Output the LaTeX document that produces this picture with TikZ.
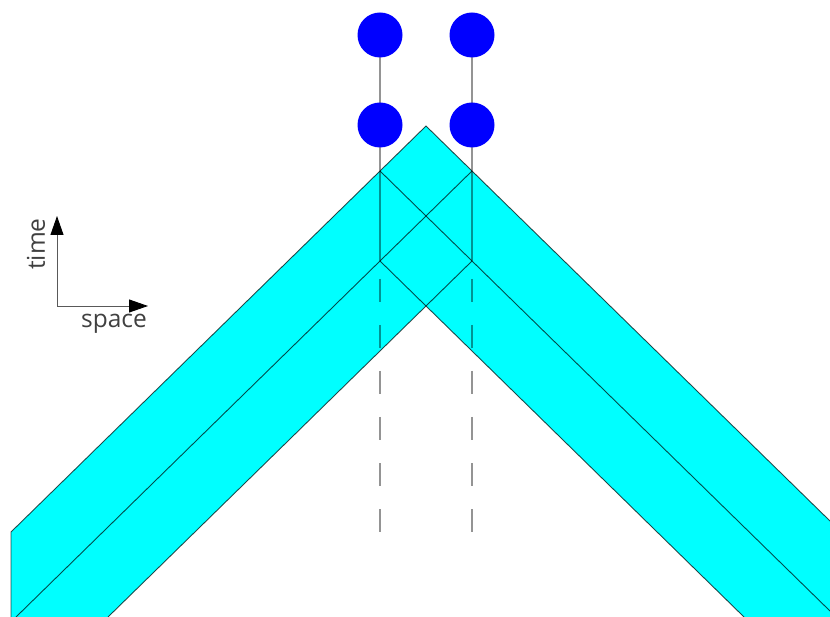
\documentclass[tikz,border=0pt]{standalone}
\usepackage{fontspec}
\setmainfont{Open Sans}
\usetikzlibrary{arrows.meta}
\definecolor{bandcyan}{RGB}{0,255,255}
\definecolor{dotblue}{RGB}{0,0,255}
\pgfdeclarelayer{bandlayer}
\pgfdeclarelayer{linelayer}
\pgfsetlayers{bandlayer,linelayer,main}
\begin{document}
\begin{tikzpicture}[x=1pt,y=-1pt,
  edge/.style={draw=black,opacity=0.7,line width=0.9pt},
  worldline/.style={draw=black,opacity=0.42,line width=1.4pt},
  dashline/.style={worldline,dash pattern=on 23pt off 23pt,dash phase=28pt},
  dot/.style={circle,fill=dotblue,inner sep=0pt,minimum size=45pt},
  axis/.style={draw=black!65,line width=0.9pt,-{Triangle[length=19pt,width=13pt,black]}},
  lbl/.style={text=black!75,font=\fontsize{24.5}{28}\selectfont,inner sep=0pt}]
\useasboundingbox (0,0) rectangle (830,617);
% key points
\coordinate (A) at (426,126);
\coordinate (L1) at (380,171);
\coordinate (R1) at (472,171);
\coordinate (C) at (426,216);
\coordinate (L2) at (380,261);
\coordinate (R2) at (472,261);
\coordinate (B) at (426,306);
\coordinate (LT) at (11,532);
\coordinate (LB) at (11,617);
\coordinate (LM) at (16,617);
\coordinate (LL) at (108,617);
\coordinate (RT) at (830,521);
\coordinate (RB) at (830,617);
\coordinate (RM) at (830,611);
\coordinate (RL) at (744,617);
% dots
\node[dot] (d1) at (380,35) {};
\node[dot] (d2) at (472,35) {};
\node[dot] (d3) at (380,125) {};
\node[dot] (d4) at (472,125) {};
\coordinate (e1) at (380,532);
\coordinate (e2) at (472,532);
% band fill
\begin{pgfonlayer}{bandlayer}
\fill[bandcyan] (LB) -- (LT) -- (A) -- (RT) -- (RB) -- (RL) -- (B) -- (LL) -- cycle;
\end{pgfonlayer}
\begin{pgfonlayer}{linelayer}
% band edges
\draw[edge] (LB) -- (LT) -- (A) -- (RT);
\draw[edge] (LL) -- (B) -- (RL);
\draw[edge] (LM) -- (C) -- (R1);
\draw[edge] (L1) -- (C) -- (RM);
\draw[edge] (L2) -- (B) -- (R2);
% world lines
\draw[worldline] (d1.center) -- (d3.center);
\draw[worldline] (d2.center) -- (d4.center);
\draw[worldline] (d3.center) -- (L2);
\draw[worldline] (d4.center) -- (R2);
\draw[dashline] (L2) -- (e1);
\draw[dashline] (R2) -- (e2);
\end{pgfonlayer}
% axes
\coordinate (O) at (57,306);
\coordinate (T) at (57,216);
\coordinate (S) at (148,306);
\draw[axis] (O) -- (T);
\draw[axis] (O) -- (S);
\node[lbl,rotate=90] (time) at (36,244) {time};
\node[lbl] (space) at (114,324) {space};
\end{tikzpicture}
\end{document}
